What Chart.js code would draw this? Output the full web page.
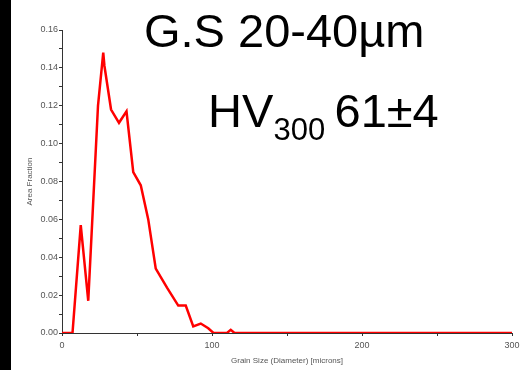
<!DOCTYPE html>
<html>
<head>
<meta charset="utf-8">
<script src="https://cdn.jsdelivr.net/npm/chart.js@4"></script>
<style>
  body { margin: 0; background: #fff; }
  #wrap { width: 532px; height: 370px; position: relative; }
</style>
</head>
<body>
<div id="wrap"><canvas id="grainChart" width="532" height="370"></canvas></div>
<script>
// grain size distribution
const grainSize = [0, 7, 12.5, 17.5, 24, 27.5, 28.3, 32.7, 38, 43, 47.5, 52.5, 57.5, 62.5, 70, 77.5, 82.5, 87.5, 92.5, 97.5, 101, 110, 112.5, 115, 300];
const areaFraction = [0, 0, 0.057, 0.017, 0.12, 0.148, 0.141, 0.118, 0.111, 0.117, 0.085, 0.078, 0.06, 0.034, 0.024, 0.0145, 0.0145, 0.0035, 0.005, 0.0025, 0, 0, 0.0017, 0, 0];

const titleText = 'G.S 20-40µm';
const hvText = ['HV', '300', '61±4'];
const xTitle = 'Grain Size (Diameter) [microns]';
const yTitle = 'Area Fraction';

const fontFamily = '"Liberation Sans", Arial, sans-serif';
const axisColor = '#333';
const labelColor = '#555';

const decorations = {
    id: 'decorations',
    beforeDraw(chart) {
        const ctx = chart.ctx;
        ctx.save();
        ctx.fillStyle = '#000';
        ctx.fillRect(0, 0, 11, chart.height);
        ctx.restore();
    },
    afterDraw(chart) {
        const ctx = chart.ctx;
        ctx.save();
        ctx.fillStyle = '#000';
        ctx.textBaseline = 'alphabetic';
        ctx.textAlign = 'left';
        ctx.font = '47px ' + fontFamily;
        ctx.fillText(titleText, 144, 47);
        ctx.fillText(hvText[0], 208, 127);
        ctx.fillText(hvText[2], 334.5, 127);
        ctx.font = '31px ' + fontFamily;
        ctx.fillText(hvText[1], 273.5, 140);
        ctx.restore();
    }
};

let points = grainSize.map((x, i) => ({x: x, y: areaFraction[i]}));

let ctx = document.getElementById('grainChart').getContext('2d');
new Chart(ctx, {
    type: 'line',
    data: {
        datasets: [{
            data: points,
            borderColor: '#ff0000',
            borderWidth: 2.5,
            pointRadius: 0,
            tension: 0,
            fill: false,
        }]
    },
    options: {
        responsive: false,
        animation: false,
        layout: { padding: { left: 0, right: 20, top: 30, bottom: 0 } },
        plugins: {
            legend: { display: false },
            tooltip: { enabled: false },
        },
        scales: {
            x: {
                type: 'linear',
                min: 0,
                max: 300,
                afterFit: (scale) => { scale.height = 37; },
                border: { display: true, color: axisColor, width: 1 },
                grid: { drawOnChartArea: false, drawTicks: true, tickLength: 3, tickColor: axisColor },
                ticks: {
                    stepSize: 50,
                    autoSkip: false,
                    maxRotation: 0,
                    padding: 4,
                    color: labelColor,
                    font: { family: fontFamily, size: 9 },
                    callback: (v) => (v % 100 === 0 ? String(v) : ''),
                },
                title: {
                    display: true,
                    text: xTitle,
                    color: labelColor,
                    font: { family: fontFamily, size: 8 },
                    padding: { top: 0, bottom: 4 },
                },
            },
            y: {
                min: 0,
                max: 0.16,
                afterFit: (scale) => { scale.width = 62; },
                border: { display: true, color: axisColor, width: 1 },
                grid: { drawOnChartArea: false, drawTicks: true, tickLength: 3, tickColor: axisColor },
                ticks: {
                    stepSize: 0.01,
                    autoSkip: false,
                    padding: 1,
                    color: labelColor,
                    font: { family: fontFamily, size: 9 },
                    callback: (v) => (Math.round(v * 100) % 2 === 0 ? v.toFixed(2) : ''),
                },
                title: {
                    display: true,
                    text: yTitle,
                    color: labelColor,
                    font: { family: fontFamily, size: 8 },
                    padding: { top: 25, bottom: 0 },
                },
            },
        },
    },
    plugins: [decorations],
});
</script>
</body>
</html>
